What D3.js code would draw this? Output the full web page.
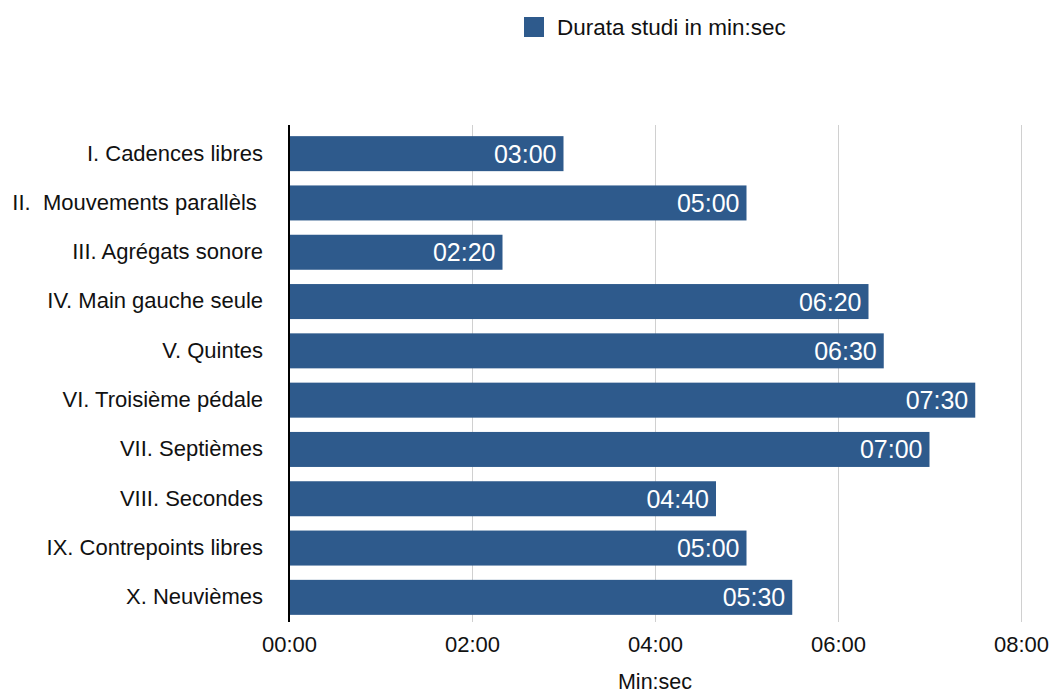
<!DOCTYPE html>
<html>
<head>
<meta charset="utf-8">
<script src="https://cdn.jsdelivr.net/npm/d3@7"></script>
<style>
    body { margin: 0; background: #fff; }
    svg { font-family: "Liberation Sans", Arial, sans-serif; }
    .cat-label { white-space: pre; }
</style>
</head>
<body>
<svg id="chart" width="1050" height="693"></svg>
<script>
// Durations, in seconds
const categories = [
    "I. Cadences libres",
    "II.  Mouvements parallèls ",
    "III. Agrégats sonore",
    "IV. Main gauche seule",
    "V. Quintes",
    "VI. Troisième pédale",
    "VII. Septièmes",
    "VIII. Secondes",
    "IX. Contrepoints libres",
    "X. Neuvièmes"
];
const durations = [180, 300, 140, 380, 390, 450, 420, 280, 300, 330];
const tickValues = [0, 120, 240, 360, 480];
const seriesName = "Durata studi in min:sec";
const axisTitle = "Min:sec";

const barColor = "#2e5a8c";

const margin = {top: 125, right: 29, bottom: 73, left: 289};
const width = 1050;
const height = 693;

const svg = d3.select("#chart");

// mm:ss formatting
function fmt(sec)
{
    const m = Math.floor(sec / 60);
    const s = sec % 60;
    return String(m).padStart(2, "0") + ":" + String(s).padStart(2, "0");
}

const x = d3.scaleLinear()
    .domain([0, 480])
    .range([margin.left, width - margin.right]);

const y = d3.scaleBand()
    .domain(categories)
    .range([margin.top + 4, height - margin.bottom + 2])
    .paddingInner(0.29)
    .paddingOuter(0.145);

// grid lines
svg.append("g")
    .selectAll("line")
    .data(tickValues.slice(1))
    .join("line")
    .attr("x1", d => x(d) + 0.5)
    .attr("x2", d => x(d) + 0.5)
    .attr("y1", margin.top)
    .attr("y2", height - margin.bottom + 2)
    .attr("stroke", "#d0d0d0")
    .attr("stroke-width", 1);

// bars
svg.append("g")
    .selectAll("rect")
    .data(durations)
    .join("rect")
    .attr("x", x(0))
    .attr("y", (d, i) => y(categories[i]))
    .attr("width", d => x(d) - x(0))
    .attr("height", y.bandwidth())
    .attr("fill", barColor);

// value labels inside the bars
svg.append("g")
    .selectAll("text")
    .data(durations)
    .join("text")
    .attr("x", d => x(d) - 7)
    .attr("y", (d, i) => y(categories[i]) + y.bandwidth() / 2)
    .attr("dy", "0.36em")
    .attr("text-anchor", "end")
    .attr("fill", "#fff")
    .attr("font-size", 25)
    .text(d => fmt(d));

// category labels
svg.append("g")
    .selectAll("text")
    .data(categories)
    .join("text")
    .attr("class", "cat-label")
    .attr("x", margin.left - 26)
    .attr("y", d => y(d) + y.bandwidth() / 2 - 1)
    .attr("dy", "0.36em")
    .attr("text-anchor", "end")
    .attr("fill", "#111")
    .attr("font-size", 22)
    .text(d => d);

// vertical axis line
svg.append("line")
    .attr("x1", x(0))
    .attr("x2", x(0))
    .attr("y1", margin.top)
    .attr("y2", height - margin.bottom + 2)
    .attr("stroke", "#000")
    .attr("stroke-width", 2);

// x axis
const xAxis = d3.axisBottom(x)
    .tickValues(tickValues)
    .tickFormat(fmt)
    .tickSize(0)
    .tickPadding(14);

const xg = svg.append("g")
    .attr("transform", `translate(0,${height - margin.bottom + 2})`)
    .call(xAxis);
xg.select(".domain").remove();
xg.selectAll("text")
    .attr("font-family", "Liberation Sans, Arial, sans-serif")
    .attr("font-size", 22)
    .attr("fill", "#111");

svg.append("text")
    .attr("x", x(240))
    .attr("y", 689)
    .attr("text-anchor", "middle")
    .attr("font-size", 21.5)
    .attr("fill", "#111")
    .text(axisTitle);

// legend
const legend = svg.append("g").attr("transform", "translate(524,17)");
legend.append("rect")
    .attr("width", 20)
    .attr("height", 20)
    .attr("fill", barColor);
legend.append("text")
    .attr("x", 33)
    .attr("y", 10)
    .attr("dy", "0.36em")
    .attr("font-size", 22.5)
    .attr("fill", "#111")
    .text(seriesName);
</script>
</body>
</html>
